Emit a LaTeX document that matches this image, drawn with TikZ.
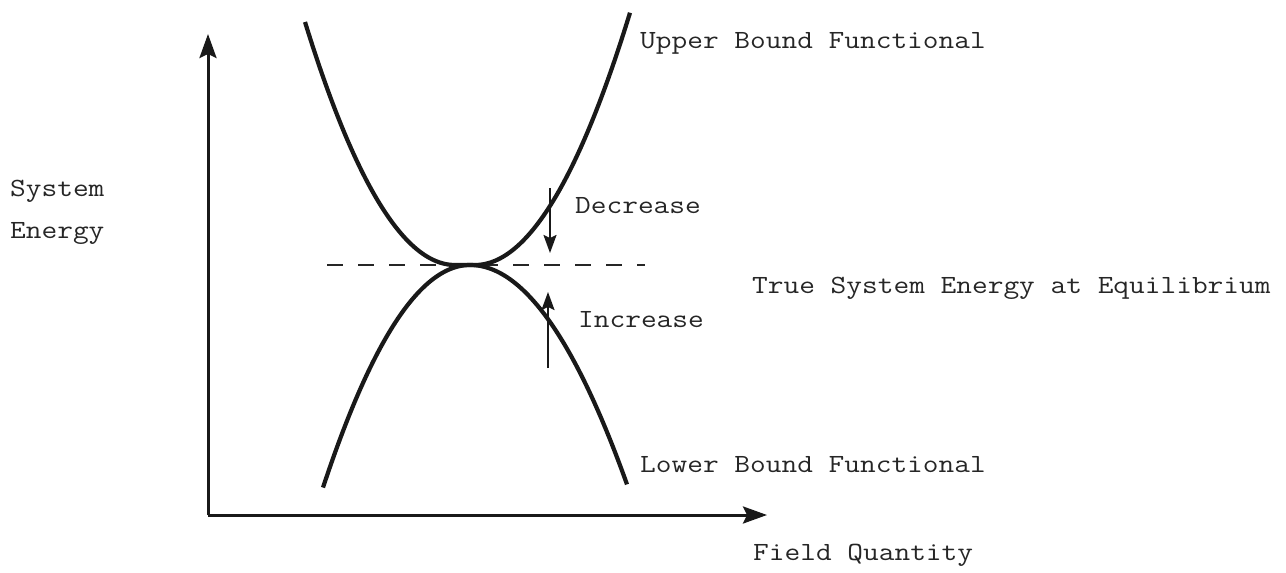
\documentclass[tikz,border=0pt]{standalone}
\usepackage{fontspec}
\usetikzlibrary{arrows.meta}
\newcommand\mytxt[1]{\scalebox{1}[0.86]{#1}}
\tikzset{
  lbl/.style={anchor=base west, inner sep=0pt, font=\ttfamily\fontsize{30.5}{34}\selectfont, text=black!85},
  curve/.style={line width=4.2pt, black!90},
  axis/.style={line width=3pt, black!90, -{Stealth[length=24pt,width=17pt,inset=4pt]}},
  small arrow/.style={line width=2pt, black!90, -{Stealth[length=18pt,width=13pt,inset=3pt]}},
  equil/.style={line width=2pt, black!85, dash pattern=on 16pt off 15pt},
}
\begin{document}
\begin{tikzpicture}[x=1pt,y=-1pt]
\useasboundingbox (0,0) rectangle (1286,573);
% axes
\coordinate (origin) at (208,515);
\coordinate (ytip) at (208,34);
\coordinate (xtip) at (767,515);
\draw[axis] (origin) -- (ytip);
\draw[axis] (origin) -- (xtip);
% equilibrium dashed line
\coordinate (eqL) at (327,265);
\coordinate (eqR) at (645,265);
\draw[equil] (eqL) -- (eqR);
% upper bound curve
\draw[curve] plot[domain=305:455, samples=60] (\x, {265-1.08*((\x-455)/10)^2})
  -- plot[domain=475:630, samples=60] (\x, {265-1.05*((\x-475)/10)^2});
% lower bound curve
\draw[curve] plot[domain=323:470, samples=60] (\x, {265+1.03*((\x-470)/10)^2})
  -- plot[domain=470:627, samples=60] (\x, {265+0.89*((\x-470)/10)^2});
% decrease / increase arrows
\coordinate (dstart) at (550,188);
\coordinate (dend) at (550,253);
\draw[small arrow] (dstart) -- (dend);
\coordinate (istart) at (548,368);
\coordinate (iend) at (548,292);
\draw[small arrow] (istart) -- (iend);
% labels
\node[lbl] (upper) at (640,48) {\mytxt{Upper Bound Functional}};
\node[lbl] (dec) at (575,213) {\mytxt{Decrease}};
\node[lbl] (true) at (752,293) {\mytxt{True System Energy at Equilibrium}};
\node[lbl] (inc) at (578,327) {\mytxt{Increase}};
\node[lbl] (lower) at (640,472) {\mytxt{Lower Bound Functional}};
\node[lbl] (field) at (753,560) {\mytxt{Field Quantity}};
\node[lbl] (sys) at (10,196) {\mytxt{System}};
\node[lbl] (energy) at (10,238) {\mytxt{Energy}};
\end{tikzpicture}
\end{document}
